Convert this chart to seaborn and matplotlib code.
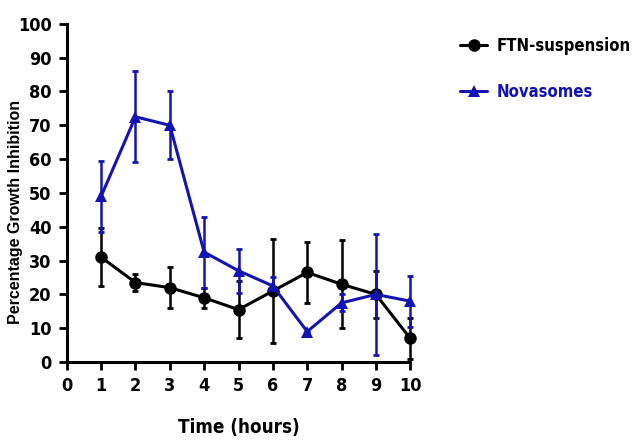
"""Percentage growth inhibition over time: FTN-suspension vs Novasomes."""

import matplotlib
matplotlib.use("Agg")
import matplotlib.pyplot as plt
import pandas as pd
import seaborn as sns

hours = [1, 2, 3, 4, 5, 6, 7, 8, 9, 10]
ftn_mean = [31, 23.5, 22, 19, 15.5, 21, 26.5, 23, 20, 7]
ftn_err = [8.5, 2.5, 6, 3, 8.5, 15.5, 9, 13, 7, 6]
nova_mean = [49, 72.5, 70, 32.5, 27, 22.5, 9, 17.5, 20, 18]
nova_err = [10.5, 13.5, 10, 10.5, 6.5, 2.5, 0, 2.5, 18, 7.5]

series = ["FTN-suspension", "Novasomes"]
colors = {"FTN-suspension": "black", "Novasomes": "#1414b4"}
markers = {"FTN-suspension": "o", "Novasomes": "^"}

df = pd.concat([
    pd.DataFrame({"Time": hours, "Value": ftn_mean, "Err": ftn_err, "Group": series[0]}),
    pd.DataFrame({"Time": hours, "Value": nova_mean, "Err": nova_err, "Group": series[1]}),
])

sns.set_style("white")
plt.rcParams["font.family"] = ["DejaVu Sans"]
plt.rcParams["font.stretch"] = "condensed"
plt.rcParams["text.color"] = "black"
plt.rcParams["axes.labelcolor"] = "black"

fig = plt.figure(figsize=(6.36, 4.41), dpi=100)
ax = fig.add_axes([0.105, 0.179, 0.540, 0.767])

for name in series:
    sub = df[df["Group"] == name]
    ax.errorbar(sub["Time"], sub["Value"], yerr=sub["Err"], fmt="none",
                ecolor=colors[name], elinewidth=1.8, capsize=2.5, capthick=2,
                clip_on=False, zorder=2)

sns.lineplot(data=df, x="Time", y="Value", hue="Group", style="Group",
             palette=colors, markers=markers, dashes=False, linewidth=2.2,
             markersize=9, markeredgewidth=0, ax=ax, legend=True,
             zorder=3, clip_on=False)

ax.set_xlim(0, 10)
ax.set_ylim(0, 100)
ax.set_xticks(range(0, 11))
ax.set_yticks(range(0, 101, 10))
for s in ["top", "right"]:
    ax.spines[s].set_visible(False)
for s in ["left", "bottom"]:
    ax.spines[s].set_linewidth(2.2)
    ax.spines[s].set_color("black")
ax.tick_params(axis="both", direction="out", length=6, width=2, color="black",
               labelcolor="black", labelsize=13, pad=5, left=True, bottom=True)
for lab in ax.get_xticklabels() + ax.get_yticklabels():
    lab.set_fontweight("bold")

ax.set_xlabel("Time (hours)", fontsize=13.5, fontweight="bold", color="black")
ax.xaxis.set_label_coords(0.5, -0.165)
ax.set_ylabel("Percentage Growth Inhibition", fontsize=11.5, fontweight="bold",
              color="black", family=["Liberation Sans", "DejaVu Sans"],
              fontstretch="normal")
ax.yaxis.set_label_coords(-0.128, 0.445)

handles, labels = ax.get_legend_handles_labels()
leg = fig.legend(handles, labels, loc="upper left", bbox_to_anchor=(0.70, 0.95),
                 frameon=False, prop={"size": 12, "weight": "bold", "stretch": "condensed"},
                 labelspacing=1.65, handlelength=1.6, handletextpad=0.6)
for text, name in zip(leg.get_texts(), labels):
    text.set_color(colors[name])
ax.get_legend().remove()

fig.savefig("out.png", dpi=100)
